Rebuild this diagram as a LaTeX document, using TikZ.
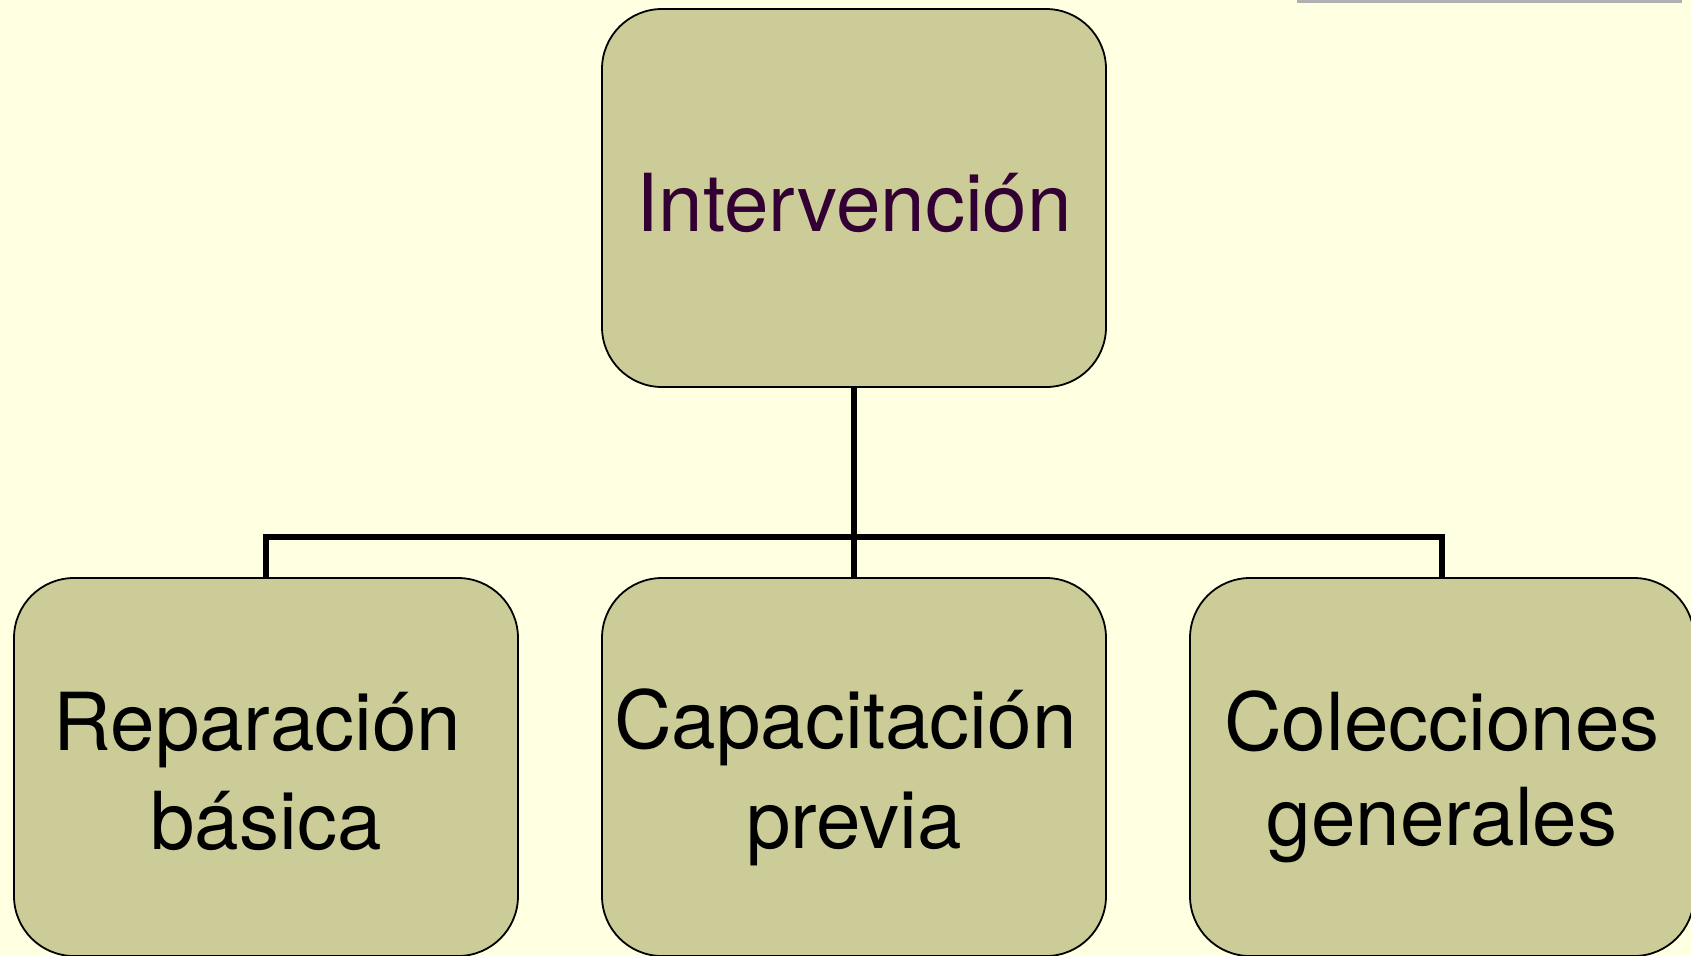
\documentclass[tikz,border=0pt]{standalone}
\usepackage{fontspec}
\setmainfont{TeX Gyre Heros}
\usetikzlibrary{positioning,calc}
\definecolor{paper}{HTML}{FFFFE1}
\definecolor{boxfill}{HTML}{CCCC99}
\definecolor{plum}{HTML}{330033}
\definecolor{rulegray}{HTML}{B0B0B0}
\newcommand{\ls}{\rule[-7pt]{0pt}{47pt}}
\newcommand{\tail}{\kern8.6pt}

\begin{document}
\begin{tikzpicture}[x=1pt,y=1pt]

        \def\d{95.5pt}
        \def\g{42pt}

        % Boxes of the tree, all of one size
        \tikzset{
            unit/.style={draw=black, line width=0.9pt, fill=boxfill,
                rounded corners=30pt, minimum width=252pt, minimum height=189pt,
                inner sep=0pt, outer sep=0pt, align=center,
                font=\fontsize{40}{47.5}\selectfont}
        }

        % Page
        \fill[paper] (0,0) rectangle (845.5,-477.5);
        \useasboundingbox (0,0) rectangle (845.5,-477.5);
        \clip (0,0) rectangle (845.5,-477.5);
        \fill[rulegray] (648.5,0) rectangle (841,-1.5);

        \begin{scope}
            \node[unit, text=plum] (top) at (427,-99)
            {\ls Intervención};
            \node[unit] (mid) [below=\d of top]
            {\ls Capacitación\tail\\ \ls previa};
            \node[unit] (left) [left=\g of mid]
            {\ls Reparación\tail\\ \ls básica};
            \node[unit] (right) [right=\g of mid]
            {\ls Colecciones\\ \ls generales};
        \end{scope}

        \coordinate (bus) at ($(top.south)!0.785!(mid.north)$);

        \begin{scope}[line width=2.75pt]
            \draw (top.south) -- (mid.north);
            \draw (left.north) |- (bus) -| (right.north);
        \end{scope}

\end{tikzpicture}
\end{document}
